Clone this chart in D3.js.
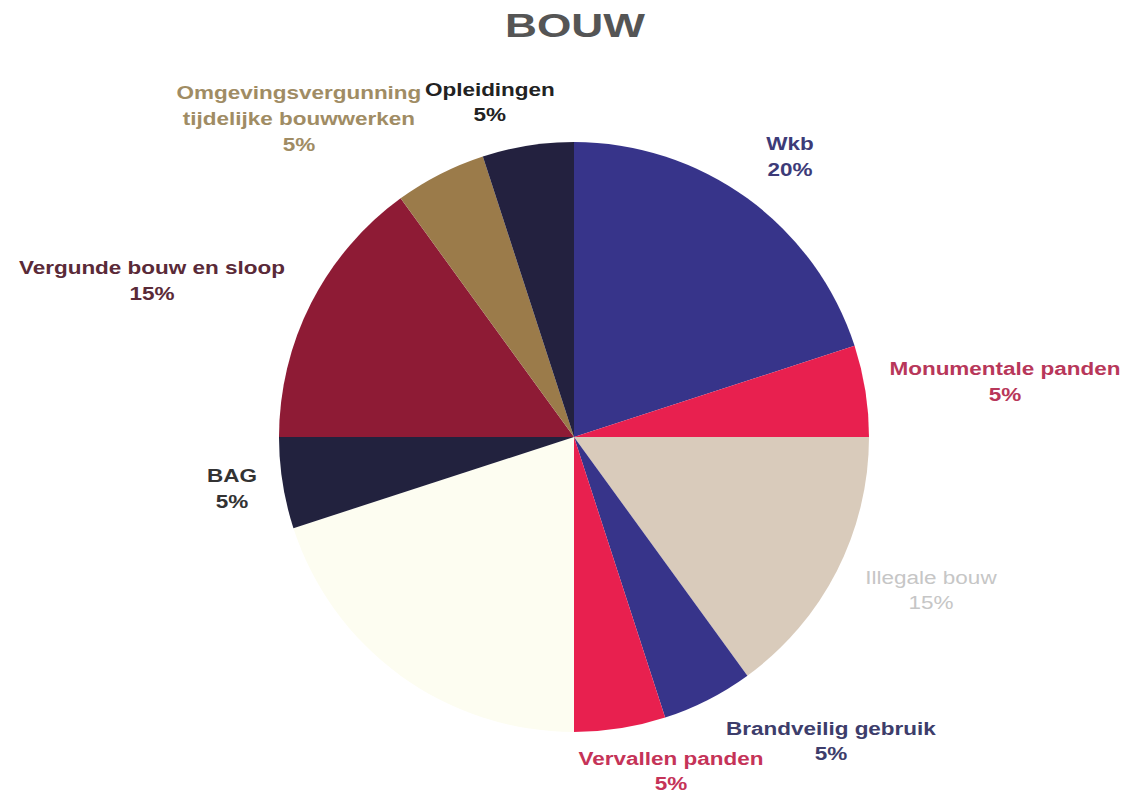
<!DOCTYPE html>
<html>
<head>
<meta charset="utf-8">
<script src="https://cdn.jsdelivr.net/npm/d3@7"></script>
<style>
  html, body { margin: 0; padding: 0; background: #ffffff; }
  svg { display: block; }
</style>
</head>
<body>
<script>
// ---- Data ----
const categories = ["Wkb", "Monumentale panden", "Illegale bouw", "Brandveilig gebruik", "Vervallen panden", "", "BAG", "Vergunde bouw en sloop", "Omgevingsvergunning tijdelijke bouwwerken", "Opleidingen"];
const values = [20, 5, 15, 5, 5, 20, 5, 15, 5, 5];
const labelLines = [
  ["Wkb", "20%"],
  ["Monumentale panden", "5%"],
  ["Illegale bouw", "15%"],
  ["Brandveilig gebruik", "5%"],
  ["Vervallen panden", "5%"],
  [],
  ["BAG", "5%"],
  ["Vergunde bouw en sloop", "15%"],
  ["Omgevingsvergunning", "tijdelijke bouwwerken", "5%"],
  ["Opleidingen", "5%"]
];
const title = "BOUW";

// ---- Styles / layout ----
const sliceColors = ["#37348a", "#e8204f", "#d9cbbb", "#37348a", "#e8204f", "#fdfdf1", "#22223e", "#8e1b35", "#9b7b4a", "#23213f"];
const labelColors = ["#3d3b78", "#b8375a", "#c6c6c6", "#3d3d6b", "#c53358", "#000", "#333333", "#5a2a38", "#a08c64", "#222222"];
const labelWeights = ["bold", "bold", "normal", "bold", "bold", "bold", "bold", "bold", "bold", "bold"];
const labelAngle = [37.6, 82.7, 113.2, 139.8, 163.8, 0, 261.4, 290.3, 319.2, 345.9];
const labelRadius = [354, 434.5, 388.4, 398, 347.8, 0, 346, 450, 421, 345.4];

const W = 1144, H = 800;
const cx = 574, cy = 437, R = 295;
const lineH = 26;
const stretch = 1.25;

const svg = d3.select("body").append("svg").attr("width", W).attr("height", H);

svg.append("text")
  .attr("transform", `translate(${575},${37}) scale(1.3,1)`)
  .attr("text-anchor", "middle")
  .attr("font-family", "Liberation Sans, Arial, sans-serif")
  .attr("font-weight", "bold")
  .attr("font-size", 34)
  .attr("fill", "#555555")
  .text(title);

const pie = d3.pie().value(d => d).sort(null);
const arcs = pie(values);
const arc = d3.arc().innerRadius(0).outerRadius(R);

const g = svg.append("g").attr("transform", `translate(${cx},${cy})`);
g.selectAll("path.slice")
  .data(arcs)
  .join("path")
  .attr("class", "slice")
  .attr("d", arc)
  .attr("fill", (d, i) => sliceColors[i]);

arcs.forEach((d, i) => {
  const lines = labelLines[i];
  if (!lines.length) return;
  const a = labelAngle[i] * Math.PI / 180;
  const x = Math.sin(a) * labelRadius[i];
  const y = -Math.cos(a) * labelRadius[i];
  const n = lines.length;
  const t = g.append("text")
    .attr("transform", `translate(${x},${y}) scale(${stretch},1)`)
    .attr("text-anchor", "middle")
    .attr("font-family", "Liberation Sans, Arial, sans-serif")
    .attr("font-weight", labelWeights[i])
    .attr("font-size", 18)
    .attr("fill", labelColors[i]);
  lines.forEach((ln, k) => {
    t.append("tspan")
      .attr("x", 0)
      .attr("y", -(n - 1) * lineH / 2 + k * lineH + 6.5)
      .text(ln);
  });
});
</script>
</body>
</html>
